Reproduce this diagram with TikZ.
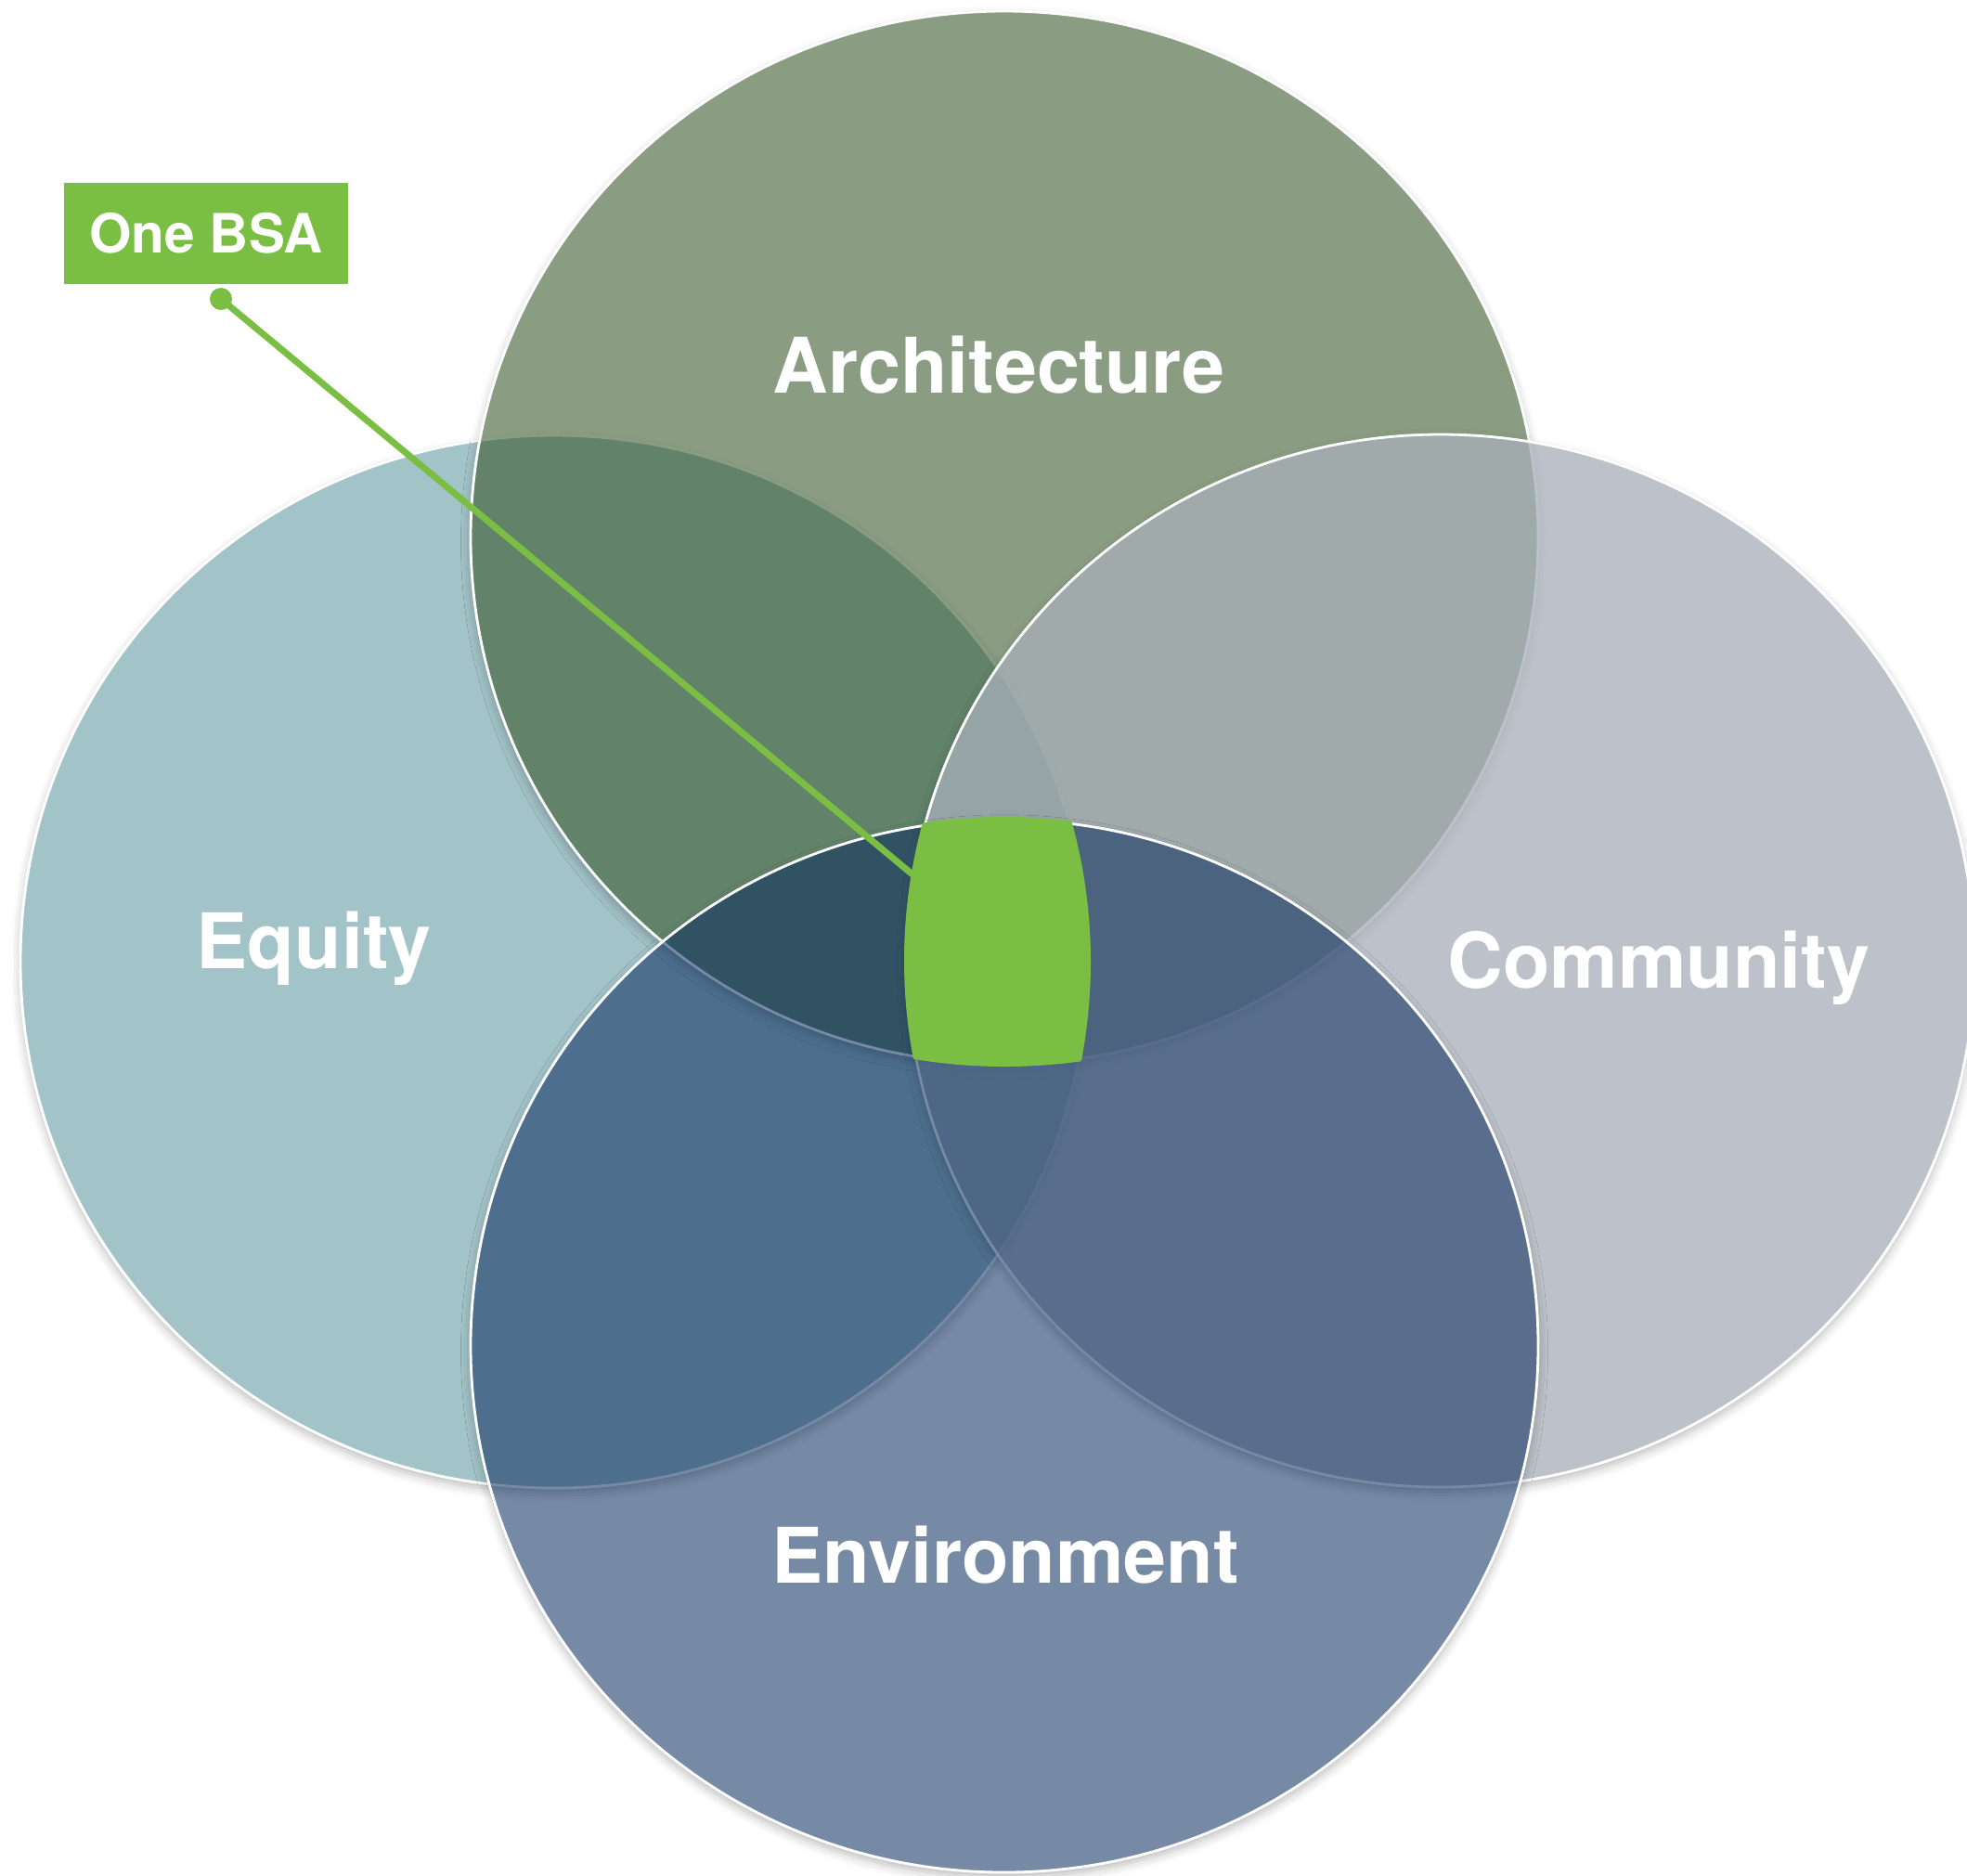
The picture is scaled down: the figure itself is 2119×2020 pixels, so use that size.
\documentclass[tikz,border=0pt]{standalone}
\usepackage{fontspec}
\setmainfont{TeX Gyre Heros}
\usetikzlibrary{shadows.blur}
\definecolor{equityblue}{RGB}{162,195,200}
\definecolor{archgreen}{RGB}{50,83,36}
\definecolor{commgray}{RGB}{168,175,185}
\definecolor{envnavy}{RGB}{11,45,95}
\definecolor{bsagreen}{RGB}{122,191,67}
\tikzstyle{ring} = [draw=white, line width=0.8pt]
\tikzstyle{drop} = [blur shadow={shadow xshift=0pt, shadow yshift=-1.5pt, shadow blur radius=3pt, shadow opacity=28}]
\tikzstyle{setname} = [text=white, font=\fontsize{23.5}{28}\selectfont\bfseries, anchor=base]
\tikzstyle{pointer} = [draw=bsagreen, line width=2pt]
\tikzstyle{bsabox} = [fill=bsagreen, text=white, font=\fontsize{16.6}{20}\selectfont\bfseries, minimum width=3.06cm, minimum height=1.09cm, inner sep=0pt]
\tikzset{petal/.style={x radius=575, y radius=567}, core/.style={x radius=578, y radius=570}}

\begin{document}
\begin{tikzpicture}[x=0.01cm, y=-0.01cm]
  \useasboundingbox (0,0) rectangle (2119,2020);

  % centres of the four sets
  \coordinate (equity) at (597,1036);
  \coordinate (arch) at (1082,579);
  \coordinate (comm) at (1552,1035);
  \coordinate (env) at (1082,1450);

  % shadow outside each disc, then the disc itself
  \foreach \c/\col/\op in {equity/equityblue/1, arch/archgreen/0.57, comm/commgray/0.76, env/envnavy/0.56} {
    \begin{scope}[even odd rule]
      \clip (-50,-50) rectangle (2200,2100) (\c) ellipse [petal];
      \path[drop] (\c) ellipse [petal];
    \end{scope}
    \fill[\col, fill opacity=\op, ring] (\c) ellipse [petal];
  }

  % common part of all four
  \begin{scope}
    \clip (equity) ellipse [core];
    \clip (arch) ellipse [core];
    \clip (comm) ellipse [core];
    \fill[bsagreen] (env) ellipse [core];
  \end{scope}

  % callout
  \node[bsabox] (bsa) at (222,251.5) {One BSA};
  \coordinate (tip) at (238,322);
  \coordinate (hub) at (983,942);
  \draw[pointer] (tip) -- (hub);
  \fill[bsagreen] (tip) circle (12);

  \node[setname] (archtext) at (1076,423) {Architecture};
  \node[setname] (equitytext) at (338,1043) {Equity};
  \node[setname] (commtext) at (1787,1064) {Community};
  \node[setname] (envtext) at (1083,1705) {Environment};
\end{tikzpicture}
\end{document}
